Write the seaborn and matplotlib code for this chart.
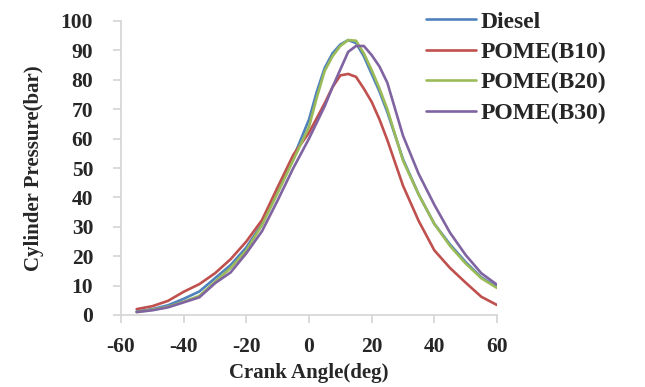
import matplotlib
matplotlib.use("Agg")
import matplotlib.pyplot as plt
import seaborn as sns
import pandas as pd

crank_angle = [-55, -50, -45, -40, -35, -30, -25, -20, -15, -10, -5, 0, 2.5, 5, 7.5, 10,
               12.5, 15, 17.5, 20, 22.5, 25, 30, 35, 40, 45, 50, 55, 60]
diesel = [1.2, 2.0, 3.3, 5.5, 8.0, 12.5, 17.0, 23.0, 31.0, 42.0, 53.5, 66.5, 76.0, 84.0, 89.0, 92.0,
          93.5, 92.5, 88.0, 82.0, 76.0, 69.0, 53.0, 41.0, 31.0, 24.0, 18.0, 12.8, 9.5]
b10 = [2.0, 3.0, 4.8, 7.9, 10.5, 14.2, 19.0, 25.0, 32.3, 43.5, 54.5, 62.0, 67.0, 72.0, 77.5, 81.5,
       82.0, 81.0, 77.0, 72.5, 66.5, 59.5, 44.0, 32.0, 22.0, 16.0, 11.0, 6.2, 3.4]
b20 = [1.0, 1.8, 2.8, 4.5, 6.5, 11.3, 16.0, 22.0, 30.6, 41.5, 52.7, 64.0, 74.0, 83.0, 88.0, 91.5,
       93.5, 93.3, 89.0, 83.3, 77.0, 70.0, 52.5, 41.0, 31.0, 23.5, 17.5, 12.5, 9.2]
b30 = [1.0, 1.6, 2.6, 4.3, 6.0, 10.8, 14.5, 21.0, 28.5, 39.0, 50.0, 60.0, 65.5, 71.0, 77.5, 83.5,
       89.5, 91.5, 91.5, 88.4, 84.5, 79.0, 61.0, 48.0, 37.5, 28.0, 20.4, 14.2, 10.3]
series_names = ["Diesel", "POME(B10)", "POME(B20)", "POME(B30)"]
colors = ["#4F81BD", "#C0504D", "#9BBB59", "#8064A2"]
x_ticks = [-60, -40, -20, 0, 20, 40, 60]
y_ticks = [0, 10, 20, 30, 40, 50, 60, 70, 80, 90, 100]

rows = []
for name, vals in zip(series_names, [diesel, b10, b20, b30]):
    for a, p in zip(crank_angle, vals):
        rows.append({"Crank Angle(deg)": a, "Cylinder Pressure(bar)": p, "Fuel": name})
df = pd.DataFrame(rows)

sns.set_style("white")
plt.rcParams["font.family"] = ["Liberation Serif", "DejaVu Serif"]
plt.rcParams["font.weight"] = "bold"

fig = plt.figure(figsize=(6.45, 3.87), dpi=100)
ax = fig.add_axes([121 / 645, 1 - 315 / 387, (497 - 121) / 645, (315 - 21) / 387])

sns.lineplot(data=df, x="Crank Angle(deg)", y="Cylinder Pressure(bar)", hue="Fuel",
             hue_order=series_names, palette=colors, linewidth=1.9, ax=ax, sort=False)

ax.set_xlim(-60, 60)
ax.set_ylim(0, 100)
ax.set_xticks(x_ticks)
ax.set_yticks(y_ticks)
ax.set_xticklabels([str(t) for t in x_ticks], fontsize=15.5, fontweight="bold")
ax.set_yticklabels([str(t) for t in y_ticks], fontsize=15.5, fontweight="bold")

spine_col = "#D4D4D4"
for s in ["top", "right"]:
    ax.spines[s].set_visible(False)
for s in ["left", "bottom"]:
    ax.spines[s].set_color(spine_col)
    ax.spines[s].set_linewidth(1.2)
ax.tick_params(axis="both", direction="out", length=6, width=1.2, color=spine_col,
               left=True, bottom=True)
ax.tick_params(axis="x", pad=10)
ax.tick_params(axis="y", pad=14)

ax.set_xlabel("Crank Angle(deg)", fontsize=15, fontweight="bold", labelpad=4)
ax.set_ylabel("Cylinder Pressure(bar)", fontsize=15, fontweight="bold", labelpad=12)

handles, labels = ax.get_legend_handles_labels()
ax.legend(handles, labels, loc="upper left", bbox_to_anchor=(426 / 645, 1 - 11 / 387),
          bbox_transform=fig.transFigure, frameon=False,
          prop={"weight": "bold", "size": 17}, handlelength=2.1, handletextpad=0.2,
          labelspacing=0.38, borderaxespad=0, borderpad=0)

fig.savefig("out.png", dpi=100)
